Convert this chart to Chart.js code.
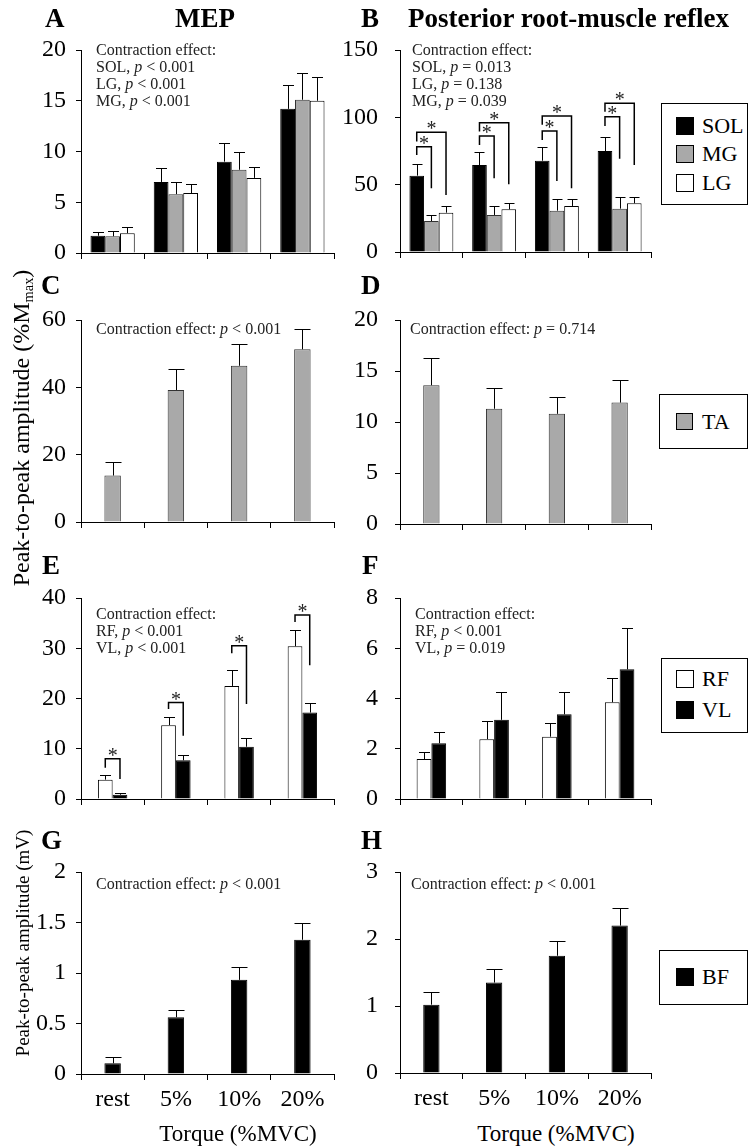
<!DOCTYPE html>
<html>
<head>
<meta charset="utf-8">
<script src="https://cdn.jsdelivr.net/npm/chart.js@4.4.1/dist/chart.umd.min.js"></script>
<style>
  body { margin: 0; background: #fff; }
  #fig { position: relative; width: 748px; height: 1148px; overflow: hidden; background: #fff;
         font-family: 'Liberation Serif', 'Times New Roman', serif; color: #000; }
  #fig canvas { position: absolute; }
  .t { position: absolute; white-space: nowrap; line-height: 1; }
  .lbl { font-weight: bold; font-size: 27px; }
  .note { font-size: 16px; line-height: 17px; color: #222; }
  .leg { position: absolute; border: 1px solid #000; box-sizing: border-box; background: #fff; }
  .sw { position: absolute; box-sizing: border-box; border: 1px solid #000; }
  .legtxt { font-size: 22px; }
  sub { font-size: 0.6em; vertical-align: -0.25em; line-height: 0; }
</style>
</head>
<body>
<div id="fig">
  <div class="t lbl" style="left:45px; top:5px">A</div>
  <div class="t lbl" style="left:175px; top:5px">MEP</div>
  <div class="t lbl" style="left:361px; top:5px">B</div>
  <div class="t lbl" style="left:408px; top:5px">Posterior root-muscle reflex</div>
  <div class="t lbl" style="left:41px; top:272px">C</div>
  <div class="t lbl" style="left:361px; top:272px">D</div>
  <div class="t lbl" style="left:42px; top:552px">E</div>
  <div class="t lbl" style="left:362px; top:552px">F</div>
  <div class="t lbl" style="left:41px; top:827px">G</div>
  <div class="t lbl" style="left:361px; top:827px">H</div>

  <div class="t note" style="left:96px; top:41px">Contraction effect:<br>SOL, <i>p</i> &lt; 0.001<br>LG, <i>p</i> &lt; 0.001<br>MG, <i>p</i> &lt; 0.001</div>
  <div class="t note" style="left:412px; top:41px">Contraction effect:<br>SOL, <i>p</i> = 0.013<br>LG, <i>p</i> = 0.138<br>MG, <i>p</i> = 0.039</div>
  <div class="t note" style="left:96px; top:320px">Contraction effect: <i>p</i> &lt; 0.001</div>
  <div class="t note" style="left:410px; top:320px">Contraction effect: <i>p</i> = 0.714</div>
  <div class="t note" style="left:96px; top:605px">Contraction effect:<br>RF, <i>p</i> &lt; 0.001<br>VL, <i>p</i> &lt; 0.001</div>
  <div class="t note" style="left:415px; top:605px">Contraction effect:<br>RF, <i>p</i> &lt; 0.001<br>VL, <i>p</i> = 0.019</div>
  <div class="t note" style="left:96px; top:875px">Contraction effect: <i>p</i> &lt; 0.001</div>
  <div class="t note" style="left:411px; top:875px">Contraction effect: <i>p</i> &lt; 0.001</div>

  <div class="t" style="left:21px; top:428px; font-size:24px; transform:translate(-50%,-50%) rotate(-90deg)">Peak-to-peak amplitude (%M<sub>max</sub>)</div>
  <div class="t" style="left:22px; top:943px; font-size:19px; transform:translate(-50%,-50%) rotate(-90deg)">Peak-to-peak amplitude (mV)</div>
  <div class="t" style="left:238px; top:1133px; font-size:23px; transform:translate(-50%,-50%)">Torque (%MVC)</div>
  <div class="t" style="left:556px; top:1133px; font-size:23px; transform:translate(-50%,-50%)">Torque (%MVC)</div>
</div>
<script>
// 데이터
const torque = ['rest', '5%', '10%', '20%'];

// A: MEP (%Mmax)
const mepSol = [1.7, 7.0, 9.0, 14.2];
const mepSolErr = [2.1, 8.4, 10.8, 16.6];
const mepMg = [1.65, 5.8, 8.2, 15.1];
const mepMgErr = [2.15, 7.0, 10.0, 17.7];
const mepLg = [1.95, 5.9, 7.4, 15.0];
const mepLgErr = [2.6, 6.8, 8.45, 17.3];

// B: PRM reflex (%Mmax)
const prmSol = [56.7, 64.6, 67.8, 75.0];
const prmSolErr = [65.1, 74.3, 77.7, 85.6];
const prmMg = [23.0, 27.5, 30.7, 32.2];
const prmMgErr = [27.5, 34.2, 39.4, 41.1];
const prmLg = [29.2, 31.7, 34.2, 36.2];
const prmLgErr = [34.2, 36.2, 39.4, 41.1];

// C, D: TA
const mepTa = [13.8, 39.2, 46.4, 51.3];
const mepTaErr = [17.7, 45.5, 52.9, 57.2];
const prmTa = [13.6, 11.3, 10.8, 11.9];
const prmTaErr = [16.3, 13.3, 12.5, 14.1];

// E, F: RF / VL
const mepRf = [3.85, 14.7, 22.5, 30.4];
const mepRfErr = [4.8, 16.4, 25.6, 33.6];
const mepVl = [0.85, 7.7, 10.4, 17.2];
const mepVlErr = [1.2, 8.8, 12.1, 19.2];
const prmRf = [1.59, 2.38, 2.48, 3.85];
const prmRfErr = [1.87, 3.12, 3.04, 4.83];
const prmVl = [2.22, 3.15, 3.37, 5.16];
const prmVlErr = [2.68, 4.27, 4.27, 6.81];

// G, H: BF (mV)
const mepBf = [0.106, 0.562, 0.932, 1.329];
const mepBfErr = [0.166, 0.635, 1.058, 1.494];
const prmBf = [1.02, 1.35, 1.75, 2.2];
const prmBfErr = [1.21, 1.55, 1.97, 2.46];

// 유의차 표시 (group, from, to, 가로선 높이, 왼쪽 끝, 오른쪽 끝)
const sigB = [
  [0, 0, 1, 78.2, 72, 47.3], [0, 0, 2, 88.9, 82, 42.3],
  [1, 0, 1, 86.1, 79.5, 54.7], [1, 0, 2, 96, 89.5, 50.3],
  [2, 0, 1, 89.9, 83.2, 52.7], [2, 0, 2, 101, 94.5, 47.3],
  [3, 0, 1, 100.5, 93.6, 69.3], [3, 0, 2, 110.4, 104.2, 64.6]
];
const sigE = [
  [0, 0, 1, 8.0, 6.2, 4.0],
  [1, 0, 1, 19.2, 17.9, 12.6],
  [2, 0, 1, 30.5, 29.0, 18.9],
  [3, 0, 1, 36.6, 35.2, 26.6]
];

const BLACK = '#000000';
const GRAY = '#a9a9a9';
const WHITE = '#ffffff';
const FONT = "'Liberation Serif', 'Times New Roman', serif";
const fig = document.getElementById('fig');

// --- 오차 막대 ---
const errorBars = {
  id: 'errorBars',
  afterDatasetsDraw(chart, args, opts) {
    const ctx = chart.ctx;
    const y = chart.scales.y;
    const cap = opts.cap || 10;
    ctx.save();
    ctx.strokeStyle = '#000';
    ctx.lineWidth = 1;
    chart.data.datasets.forEach((ds, i) => {
      if (!ds.errTop) return;
      chart.getDatasetMeta(i).data.forEach((bar, j) => {
        const x = Math.round(bar.x) + 0.5;
        const top = Math.round(y.getPixelForValue(ds.errTop[j])) + 0.5;
        ctx.beginPath();
        ctx.moveTo(x, bar.y);
        ctx.lineTo(x, top);
        ctx.moveTo(x - cap / 2, top);
        ctx.lineTo(x + cap / 2, top);
        ctx.stroke();
      });
    });
    ctx.restore();
  }
};

// --- 유의차 괄호 + 별표 ---
const brackets = {
  id: 'brackets',
  afterDatasetsDraw(chart, args, opts) {
    if (!opts.list) return;
    const ctx = chart.ctx;
    const y = chart.scales.y;
    ctx.save();
    ctx.strokeStyle = '#000';
    ctx.fillStyle = '#222';
    ctx.lineWidth = 1.5;
    ctx.font = '20px ' + FONT;
    ctx.textAlign = 'center';
    ctx.textBaseline = 'alphabetic';
    const m = ctx.measureText('*');
    const shift = (m.actualBoundingBoxAscent - m.actualBoundingBoxDescent) / 2;
    opts.list.forEach(([g, a, b, level, leftEnd, rightEnd]) => {
      const x1 = chart.getDatasetMeta(a).data[g].x;
      const x2 = chart.getDatasetMeta(b).data[g].x;
      const yl = y.getPixelForValue(level);
      ctx.beginPath();
      ctx.moveTo(x1, y.getPixelForValue(leftEnd));
      ctx.lineTo(x1, yl);
      ctx.lineTo(x2, yl);
      ctx.lineTo(x2, y.getPixelForValue(rightEnd));
      ctx.stroke();
      ctx.fillText('*', (x1 + x2) / 2, yl - 7 + shift);
    });
    ctx.restore();
  }
};

Chart.register(errorBars, brackets);

function bars(label, data, errTop, color) {
  return {
    label, data, errTop,
    backgroundColor: color,
    borderColor: color === GRAY ? '#333' : '#000',
    borderWidth: 1
  };
}

function panel(o) {
  const left = o.col === 0 ? 30 : 340;
  const yw = o.col === 0 ? 51 : 60;
  const areaR = o.col === 0 ? 334 : 651;
  // 눈금 글자 높이의 절반 + padding 보다 크게 잡아야 차트 영역이 밀리지 않음
  const padR = 16, padT = 36;
  const xh = o.showX ? 44 : 10;
  const padB = o.showX ? 0 : 26;
  const W = areaR - left + padR;
  const H = padT + (o.bottom - o.top) + xh + padB;
  const canvas = document.createElement('canvas');
  canvas.width = W;
  canvas.height = H;
  canvas.style.left = left + 'px';
  canvas.style.top = (o.top - padT) + 'px';
  fig.insertBefore(canvas, fig.firstChild);

  new Chart(canvas, {
    type: 'bar',
    data: { labels: torque, datasets: o.datasets },
    options: {
      responsive: false,
      animation: false,
      devicePixelRatio: 1,
      categoryPercentage: o.cat,
      barPercentage: 1,
      layout: { padding: { top: padT, right: padR, bottom: padB, left: 0 } },
      plugins: {
        legend: { display: false },
        tooltip: { enabled: false },
        errorBars: { cap: o.cap },
        brackets: { list: o.sig }
      },
      scales: {
        x: {
          grid: { display: true, drawOnChartArea: false, drawTicks: true, tickLength: 6, color: '#000', offset: true },
          border: { display: true, color: '#000', width: 1 },
          ticks: { display: !!o.showX, color: '#000', font: { family: FONT, size: 24 }, padding: 5, maxRotation: 0, autoSkip: false },
          afterFit: s => { s.height = xh; }
        },
        y: {
          min: 0,
          max: o.max,
          ticks: {
            stepSize: o.step, color: '#000', font: { family: FONT, size: 24 },
            padding: o.col === 0 ? 10 : 17,
            callback: v => String(v)
          },
          grid: { drawOnChartArea: false, drawTicks: true, tickLength: 5, color: '#000' },
          border: { display: true, color: '#000', width: 1 },
          afterFit: s => { s.width = yw; }
        }
      }
    }
  });
}

function legend(left, top, w, h, items, firstTop, gap, sw) {
  const box = document.createElement('div');
  box.className = 'leg';
  Object.assign(box.style, { left: left + 'px', top: top + 'px', width: w + 'px', height: h + 'px' });
  fig.appendChild(box);
  items.forEach((it, i) => {
    const y = firstTop + i * gap;
    const s = document.createElement('div');
    s.className = 'sw';
    Object.assign(s.style, { left: '676px', top: y + 'px', width: sw + 'px', height: sw + 'px', background: it[1] });
    fig.appendChild(s);
    const t = document.createElement('div');
    t.className = 't legtxt';
    t.textContent = it[0];
    Object.assign(t.style, { left: '702px', top: (y + sw / 2 - 11) + 'px' });
    fig.appendChild(t);
  });
}

// --- 패널 ---
panel({ col: 0, top: 50, bottom: 253, max: 20, step: 5, cat: 0.7, cap: 11, datasets: [
  bars('SOL', mepSol, mepSolErr, BLACK), bars('MG', mepMg, mepMgErr, GRAY), bars('LG', mepLg, mepLgErr, WHITE)] });
panel({ col: 1, top: 50, bottom: 252, max: 150, step: 50, cat: 0.7, cap: 10, sig: sigB, datasets: [
  bars('SOL', prmSol, prmSolErr, BLACK), bars('MG', prmMg, prmMgErr, GRAY), bars('LG', prmLg, prmLgErr, WHITE)] });
panel({ col: 0, top: 320, bottom: 522, max: 60, step: 20, cat: 0.26, cap: 16, datasets: [
  bars('TA', mepTa, mepTaErr, GRAY)] });
panel({ col: 1, top: 320, bottom: 524, max: 20, step: 5, cat: 0.26, cap: 16, datasets: [
  bars('TA', prmTa, prmTaErr, GRAY)] });
panel({ col: 0, top: 598, bottom: 799, max: 40, step: 10, cat: 0.465, cap: 11, sig: sigE, datasets: [
  bars('RF', mepRf, mepRfErr, WHITE), bars('VL', mepVl, mepVlErr, BLACK)] });
panel({ col: 1, top: 598, bottom: 799, max: 8, step: 2, cat: 0.47, cap: 11, datasets: [
  bars('RF', prmRf, prmRfErr, WHITE), bars('VL', prmVl, prmVlErr, BLACK)] });
panel({ col: 0, top: 872, bottom: 1074, max: 2, step: 0.5, cat: 0.26, cap: 16, showX: true, datasets: [
  bars('BF', mepBf, mepBfErr, BLACK)] });
panel({ col: 1, top: 872, bottom: 1073, max: 3, step: 1, cat: 0.26, cap: 16, showX: true, datasets: [
  bars('BF', prmBf, prmBfErr, BLACK)] });

// --- 범례 ---
legend(661, 103, 87, 102, [['SOL', BLACK], ['MG', GRAY], ['LG', WHITE]], 117, 28.3, 18);
legend(659, 394, 89, 55, [['TA', GRAY]], 413, 0, 17);
legend(661, 658, 87, 75, [['RF', WHITE], ['VL', BLACK]], 670, 31, 18);
legend(659, 950, 89, 55, [['BF', BLACK]], 968, 0, 18);
</script>
</body>
</html>
